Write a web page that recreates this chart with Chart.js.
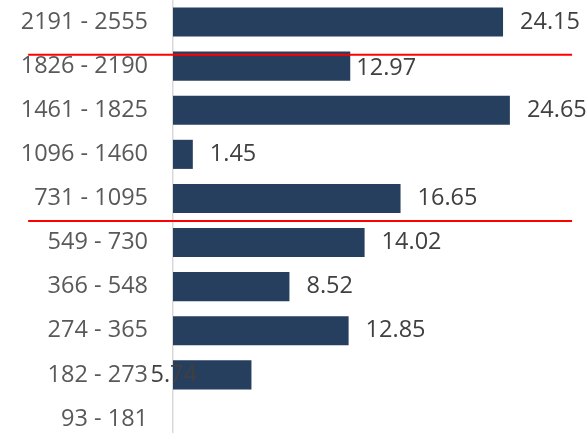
<!DOCTYPE html>
<html>
<head>
<meta charset="utf-8">
<script src="https://cdn.jsdelivr.net/npm/chart.js@4.4.1/dist/chart.umd.min.js"></script>
<style>
  html, body { margin: 0; padding: 0; background: #fff; overflow: hidden; }
  #wrap { position: relative; width: 587px; height: 441px; }
</style>
</head>
<body>
<div id="wrap"><canvas id="chart"></canvas></div>
<script>
// day ranges, top to bottom
const ranges = ['2191 - 2555', '1826 - 2190', '1461 - 1825', '1096 - 1460', '731 - 1095',
                '549 - 730', '366 - 548', '274 - 365', '182 - 273', '93 - 181'];
const shares = [24.15, 12.97, 24.65, 1.45, 16.65, 14.02, 8.52, 12.85, 5.74, null];

// red separator lines: row position and x range in value units
const dividerRows = [0.74, 4.51];
const dividerSpan = [-10.6, 29.2];

const FONT = '"Open Sans", "Liberation Sans", sans-serif';
const FONT_SIZE = 23.5;

// value labels beside each bar
const barLabels = {
    id: 'barLabels',
    afterDatasetsDraw(chart, args, opts) {
        const ctx = chart.ctx;
        const meta = chart.getDatasetMeta(0);
        ctx.save();
        ctx.font = FONT_SIZE + 'px ' + FONT;
        ctx.fillStyle = '#404040';
        ctx.textBaseline = 'middle';
        ctx.textAlign = 'left';
        meta.data.forEach((bar, i) => {
            const v = shares[i];
            if (v == null) return;
            const shift = opts.shift[i] || [17, 0];
            ctx.fillText(v.toFixed(2), bar.x + shift[0], bar.y + shift[1]);
        });
        ctx.restore();
    }
};

const dividers = {
    id: 'dividers',
    afterDraw(chart) {
        const ctx = chart.ctx;
        const xs = chart.scales.x, ys = chart.scales.y;
        ctx.save();
        ctx.strokeStyle = '#ff0000';
        ctx.lineWidth = 2;
        dividerRows.forEach(r => {
            const y = ys.getPixelForValue(r);
            ctx.beginPath();
            ctx.moveTo(xs.getPixelForValue(dividerSpan[0]), y);
            ctx.lineTo(xs.getPixelForValue(dividerSpan[1]), y);
            ctx.stroke();
        });
        ctx.restore();
    }
};

new Chart(document.getElementById('chart'), {
    type: 'bar',
    data: {
        labels: ranges,
        datasets: [{
            data: shares,
            backgroundColor: '#263f5f',
            barPercentage: 0.66,
            categoryPercentage: 1
        }]
    },
    options: {
        indexAxis: 'y',
        responsive: true,
        maintainAspectRatio: false,
        animation: false,
        layout: { padding: { left: 0, right: 4, top: 0, bottom: 0 } },
        plugins: {
            legend: { display: false },
            tooltip: { enabled: false },
            barLabels: { shift: { 1: [6, 2], 8: [-101, 0] } }
        },
        scales: {
            x: {
                display: false,
                min: 0,
                max: 30
            },
            y: {
                afterFit(scale) {
                    scale.width = 173;
                    scale.paddingTop = 0;
                    scale.paddingBottom = 0;
                },
                grid: { display: false },
                border: { display: true, color: '#d9d9d9', width: 1.5 },
                ticks: {
                    color: '#595959',
                    padding: 17,
                    font: { family: FONT, size: FONT_SIZE }
                }
            }
        }
    },
    plugins: [barLabels, dividers]
});
</script>
</body>
</html>
